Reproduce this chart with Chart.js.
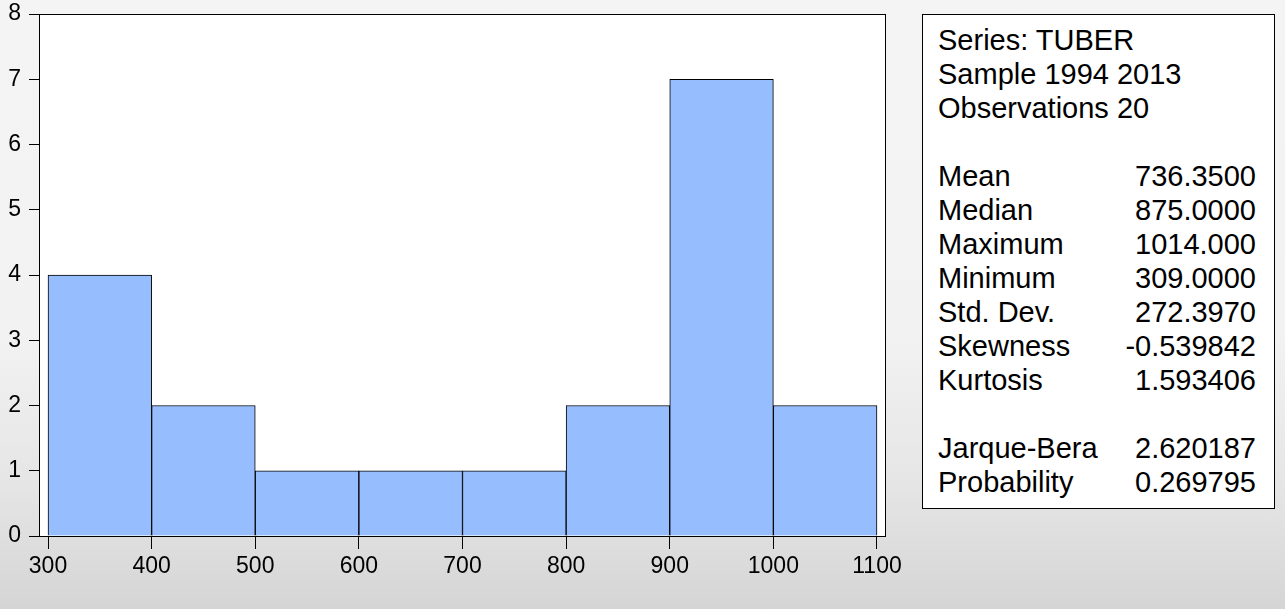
<!DOCTYPE html>
<html>
<head>
<meta charset="utf-8">
<title>Histogram - TUBER</title>
<script src="https://cdn.jsdelivr.net/npm/chart.js@4.4.1/dist/chart.umd.min.js"></script>
<style>
    html, body {
        margin: 0;
        padding: 0;
    }
    body {
        width: 1285px;
        height: 609px;
        position: relative;
        overflow: hidden;
        background: linear-gradient(#f4f4f4 0%, #f2f2f2 55%, #e5e5e5 80%, #d5d5d5 100%);
        font-family: Arial, "Liberation Sans", sans-serif;
    }
    #histChart {
        position: absolute;
        left: 0;
        top: 0;
    }
    #statsBox {
        position: absolute;
        left: 922px;
        top: 14px;
        width: 318px;
        height: 485px;
        padding: 8px 18px 0 15px;
        border: 1px solid #000;
        background: #fff;
        font-size: 29px;
        line-height: 34px;
        color: #000;
    }
    .row {
        display: flex;
        justify-content: space-between;
        height: 34px;
        white-space: nowrap;
    }
</style>
</head>
<body>
<canvas id="histChart" width="1285" height="609"></canvas>
<div id="statsBox"></div>

<script>
// Histogram data (bin centres, counts per bin)
const binCenters = [350, 450, 550, 650, 750, 850, 950, 1050];
const counts = [4, 2, 1, 1, 1, 2, 7, 2];
const xTicks = [300, 400, 500, 600, 700, 800, 900, 1000, 1100];
const yTicks = [0, 1, 2, 3, 4, 5, 6, 7, 8];

// Descriptive statistics panel
const headerLines = ['Series: TUBER', 'Sample 1994 2013', 'Observations 20'];
const statNames = ['Mean', 'Median', 'Maximum', 'Minimum', 'Std. Dev.', 'Skewness', 'Kurtosis'];
const statValues = ['736.3500', '875.0000', '1014.000', '309.0000', '272.3970', '-0.539842', '1.593406'];
const testNames = ['Jarque-Bera', 'Probability'];
const testValues = ['2.620187', '0.269795'];

const barColor = 'rgb(150, 190, 255)';
const axisFont = { family: 'Arial, "Liberation Sans", sans-serif', size: 23 };

// Build the stats box
function buildStats() {
    const box = document.getElementById('statsBox');
    const addRow = (left, right) => {
        const row = document.createElement('div');
        row.className = 'row';
        row.innerHTML = `<span>${left}</span><span>${right}</span>`;
        box.appendChild(row);
    };
    headerLines.forEach(line => addRow(line, ''));
    addRow('', '');
    statNames.forEach((name, i) => addRow(name, statValues[i]));
    addRow('', '');
    testNames.forEach((name, i) => addRow(name, testValues[i]));
}

// White plot area with black frame
const framePlugin = {
    id: 'plotFrame',
    beforeDatasetsDraw(chart) {
        const { ctx, chartArea: a } = chart;
        ctx.save();
        ctx.fillStyle = '#fff';
        ctx.fillRect(a.left, a.top, a.right - a.left, a.bottom - a.top);
        ctx.restore();
    },
    afterDraw(chart) {
        const { ctx, chartArea: a } = chart;
        ctx.save();
        ctx.strokeStyle = '#000';
        ctx.lineWidth = 1;
        ctx.strokeRect(Math.round(a.left) + 0.5, Math.round(a.top) + 0.5,
            Math.round(a.right - a.left) - 1, Math.round(a.bottom - a.top));
        ctx.restore();
    }
};

function drawChart() {
    new Chart(document.getElementById('histChart'), {
        type: 'bar',
        data: {
            datasets: [{
                data: binCenters.map((x, i) => ({ x: x, y: counts[i] })),
                backgroundColor: barColor,
                borderColor: '#000',
                borderWidth: 1,
                borderSkipped: 'start',
                barPercentage: 1,
                categoryPercentage: 1
            }]
        },
        options: {
            responsive: false,
            animation: false,
            layout: {
                padding: { top: 14, right: 399, left: 0, bottom: 0 }
            },
            plugins: {
                legend: { display: false },
                tooltip: { enabled: false }
            },
            scales: {
                x: {
                    type: 'linear',
                    offset: false,
                    min: 291.3,
                    max: 1108.7,
                    afterBuildTicks: scale => {
                        scale.ticks = xTicks.map(v => ({ value: v }));
                    },
                    afterFit: scale => {
                        scale.height = 73;
                        scale.paddingLeft = 0;
                        scale.paddingRight = 0;
                    },
                    border: { display: false },
                    grid: {
                        offset: false,
                        drawOnChartArea: false,
                        drawTicks: true,
                        tickLength: 13,
                        color: '#000',
                        lineWidth: 1
                    },
                    ticks: {
                        color: '#000',
                        font: axisFont,
                        padding: 4,
                        maxRotation: 0,
                        autoSkip: false,
                        callback: value => String(value)
                    }
                },
                y: {
                    min: 0,
                    max: 8,
                    afterBuildTicks: scale => {
                        scale.ticks = yTicks.map(v => ({ value: v }));
                    },
                    afterFit: scale => {
                        scale.width = 39;
                        scale.paddingTop = 0;
                        scale.paddingBottom = 0;
                    },
                    border: { display: false },
                    grid: {
                        drawOnChartArea: false,
                        drawTicks: true,
                        tickLength: 10,
                        color: '#000',
                        lineWidth: 1
                    },
                    ticks: {
                        color: '#000',
                        font: axisFont,
                        padding: 8,
                        callback: value => String(value)
                    }
                }
            }
        },
        plugins: [framePlugin]
    });
}

buildStats();
drawChart();
</script>
</body>
</html>
